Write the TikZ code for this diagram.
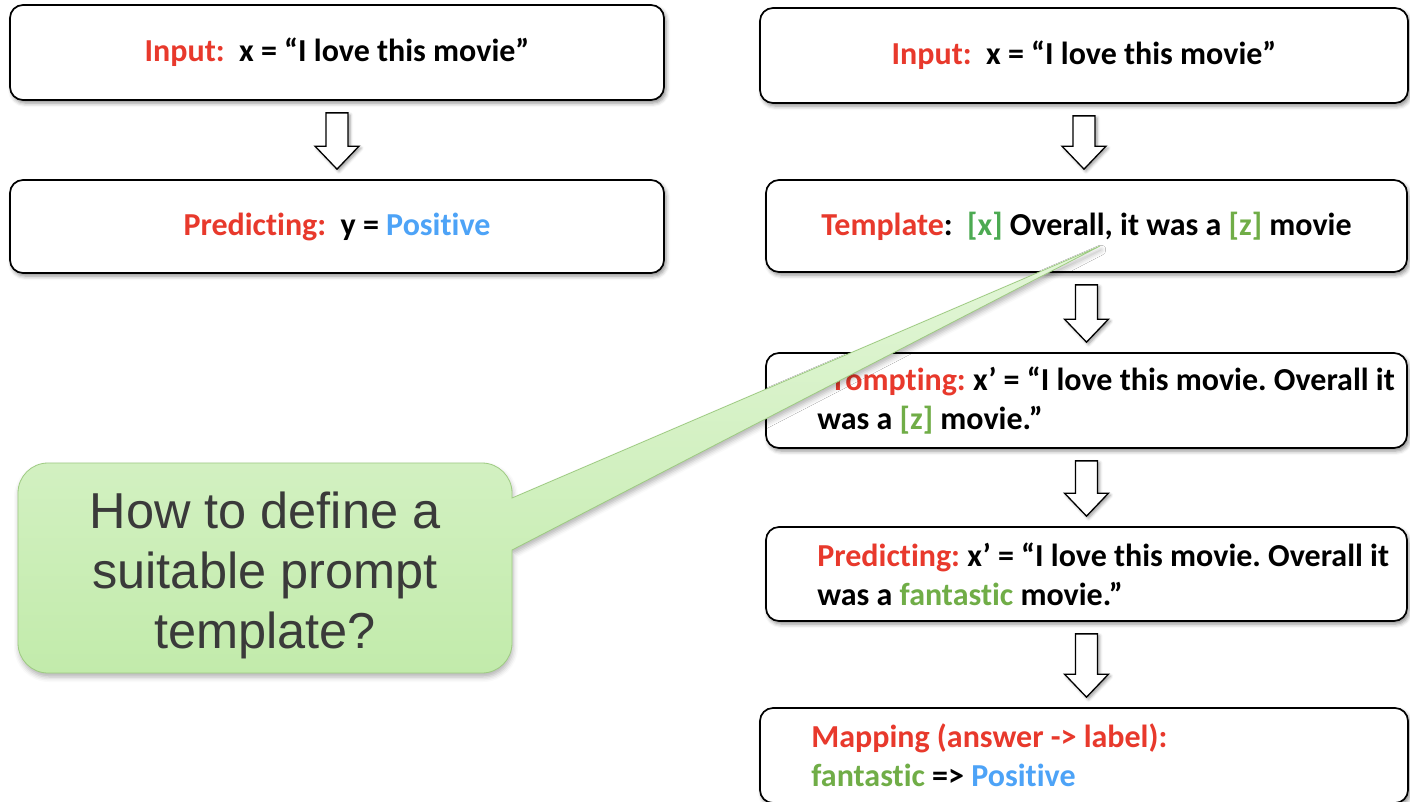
\documentclass[tikz,border=0pt]{standalone}
\usepackage{fontspec}
\setmainfont{Carlito}[Ligatures={TeX,NoCommon}]
\newfontfamily\calloutfont{Liberation Sans}
\usetikzlibrary{calc,shadows.blur}
\frenchspacing

\definecolor{kred}{HTML}{E8392C}
\definecolor{kblue}{HTML}{4DA3F7}
\definecolor{kgreenx}{HTML}{4CAA52}
\definecolor{kgreenz}{HTML}{70AD47}
\definecolor{calltop}{HTML}{E3F6D8}
\definecolor{callbot}{HTML}{C2EBAB}
\definecolor{callline}{HTML}{9ECB82}
\definecolor{calltext}{HTML}{3A3A3A}

\newcommand\rd[1]{\textcolor{kred}{#1}}
\newcommand\bl[1]{\textcolor{kblue}{#1}}
\newcommand\gx[1]{\textcolor{kgreenx}{#1}}
\newcommand\gz[1]{\textcolor{kgreenz}{#1}}

% hollow block arrow from the bottom of one card to the top of the next
\newcommand\flowarrow[2]{%
  \coordinate (fa-top) at ($(#1.south)+(0,12)$);
  \coordinate (fa-tip) at ($(#2.north)+(0,-10)$);
  \coordinate (fa-end) at (fa-top |- fa-tip);
  \draw[flow] ($(fa-top)+(-11,0)$) -- ($(fa-top)+(11,0)$)
    -- ($(fa-end)+(11,-23)$) -- ($(fa-end)+(22,-23)$) -- (fa-end)
    -- ($(fa-end)+(-22,-23)$) -- ($(fa-end)+(-11,-23)$) -- cycle;
}

\tikzset{
  softshadow/.style={blur shadow={shadow xshift=2pt, shadow yshift=-3pt,
      shadow blur radius=4pt, shadow opacity=45}},
  card/.style={draw=black, line width=1.7pt, rounded corners=13pt, fill=white,
      softshadow, inner sep=0pt,
      font=\bfseries\fontsize{32}{39}\selectfont},
  cardtext/.style={anchor=west, align=left, inner sep=0pt,
      font=\bfseries\fontsize{32}{39}\selectfont},
  flow/.style={draw=black, line width=1.3pt, fill=white, line join=miter,
      blur shadow={shadow xshift=2pt, shadow yshift=-2pt,
      shadow blur radius=3pt, shadow opacity=40}},
  callout/.style={draw=callline, line width=0.8pt, top color=calltop,
      bottom color=callbot,
      blur shadow={shadow xshift=1pt, shadow yshift=-4pt,
      shadow blur radius=5pt, shadow opacity=30}},
}

\begin{document}
\begin{tikzpicture}[x=1pt, y=-1pt]
\useasboundingbox (0,0) rectangle (1410,801);

% left column: direct prediction
\node[card, minimum width=654pt, minimum height=95pt] (in1) at (337,52.5)
  {\rd{Input:}~~x = “I love this movie”};
\node[card, minimum width=654pt, minimum height=93pt] (pr1) at (337,226.5)
  {\rd{Predicting:}~~y = \bl{Positive}};

% right column: prompt-based prediction
\node[card, minimum width=648pt, minimum height=95pt] (in2) at (1084,55.5)
  {\rd{Input:}~~x = “I love this movie”};
\node[card, minimum width=641pt, minimum height=92pt] (tpl) at (1086.5,226)
  {\rd{Template}:~~\gx{[x]} Overall, it was a \gz{[z]} movie};
\node[card, minimum width=641pt, minimum height=95pt] (pmt) at (1086.5,400.5) {};
\node[cardtext] (pmtT) at ($(pmt.west)+(52,0)$)
  {\rd{Prompting:} x’ = “I love this movie. Overall it\\was a \gz{[z]} movie.”};
\node[card, minimum width=641pt, minimum height=94pt] (prd) at (1086.5,574) {};
\node[cardtext] (prdT) at ($(prd.west)+(52,0)$)
  {\rd{Predicting:} x’ = “I love this movie. Overall it\\was a \gz{fantastic} movie.”};
\node[card, minimum width=648pt, minimum height=95pt] (map) at (1084,755.5) {};
\node[cardtext] (mapT) at ($(map.west)+(52,0)$)
  {\rd{Mapping (answer -> label):}\\\gz{fantastic} => \bl{Positive}};

% flow arrows
\flowarrow{in1}{pr1}
\flowarrow{in2}{tpl}
\flowarrow{tpl}{pmt}
\flowarrow{pmt}{prd}
\flowarrow{prd}{map}

% speech bubble pointing at the template
\coordinate (tip) at (1100,246);
\draw[callout] (48,463) -- (482,463)
  .. controls (498.6,463) and (512,476.4) .. (512,493)
  -- (512,498) -- (tip) -- (512,550) -- (512,643)
  .. controls (512,659.6) and (498.6,673) .. (482,673)
  -- (48,673)
  .. controls (31.4,673) and (18,659.6) .. (18,643)
  -- (18,493)
  .. controls (18,476.4) and (31.4,463) .. (48,463) -- cycle;
\node[align=center, text=calltext, inner sep=0pt,
      font=\calloutfont\fontsize{50.5}{60}\selectfont] (q) at (265,575)
  {How to define a\\suitable prompt\\template?};
\end{tikzpicture}
\end{document}
